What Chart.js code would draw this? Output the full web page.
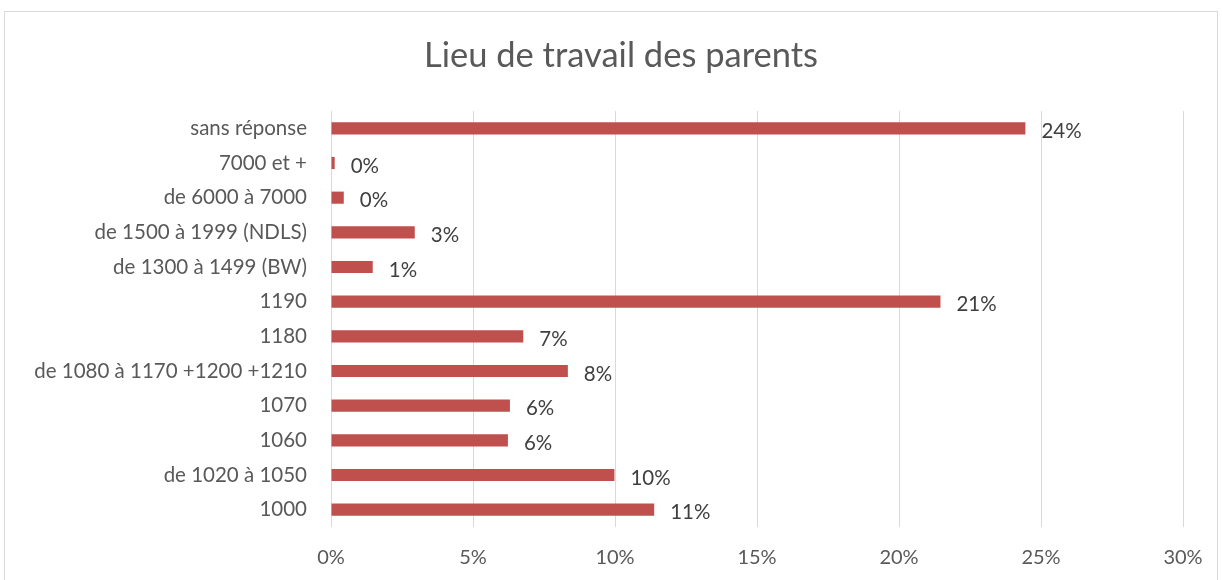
<!DOCTYPE html>
<html>
<head>
<meta charset="utf-8">
<script src="https://cdn.jsdelivr.net/npm/chart.js@4"></script>
<style>
  html, body { margin: 0; padding: 0; background: #fff; }
  canvas { display: block; }
</style>
</head>
<body>
<canvas id="c" width="1222" height="580"></canvas>
<script>
const categories = [
  "sans réponse",
  "7000 et +",
  "de 6000 à 7000",
  "de 1500 à 1999 (NDLS)",
  "de 1300 à 1499 (BW)",
  "1190",
  "1180",
  "de 1080 à 1170 +1200 +1210",
  "1070",
  "1060",
  "de 1020 à 1050",
  "1000"
];
const values = [24.45, 0.13, 0.45, 2.95, 1.47, 21.46, 6.77, 8.34, 6.30, 6.23, 9.98, 11.38];
const valueLabels = ["24%", "0%", "0%", "3%", "1%", "21%", "7%", "8%", "6%", "6%", "10%", "11%"];
const xTicks = [0, 5, 10, 15, 20, 25, 30];
const titleText = "Lieu de travail des parents";

const FONT = "Lato, 'Open Sans', sans-serif";

const decor = {
  id: 'decor',
  beforeDraw(chart) {
    const ctx = chart.ctx;
    ctx.save();
    ctx.fillStyle = '#ffffff';
    ctx.fillRect(0, 0, chart.width, chart.height);
    ctx.strokeStyle = '#d9d9d9';
    ctx.lineWidth = 1;
    ctx.strokeRect(4.5, 11.5, 1213, 600);
    ctx.restore();
  },
  afterDraw(chart) {
    const ctx = chart.ctx;
    ctx.save();
    ctx.fillStyle = '#595959';
    ctx.font = "34.5px " + FONT;
    ctx.textAlign = 'center';
    ctx.textBaseline = 'middle';
    ctx.fillText(titleText, 621, 56);
    const meta = chart.getDatasetMeta(0);
    ctx.fillStyle = '#404040';
    ctx.font = "20.5px " + FONT;
    ctx.textAlign = 'left';
    meta.data.forEach((bar, i) => {
      ctx.fillText(valueLabels[i], bar.x + 16, bar.y + 3);
    });
    ctx.restore();
  }
};

new Chart(document.getElementById('c'), {
  type: 'bar',
  data: {
    labels: categories,
    datasets: [{
      data: values,
      backgroundColor: '#c0504d',
      borderWidth: 0,
      categoryPercentage: 1.0,
      barPercentage: 0.35
    }]
  },
  options: {
    indexAxis: 'y',
    responsive: false,
    animation: false,
    layout: { padding: { left: 0, right: 39, top: 111, bottom: 0 } },
    plugins: {
      legend: { display: false },
      title: { display: false },
      tooltip: { enabled: false }
    },
    scales: {
      x: {
        min: 0,
        max: 30,
        afterBuildTicks(scale) { scale.ticks = xTicks.map(v => ({ value: v })); },
        afterFit(scale) { scale.height = 53; },
        grid: { color: '#d9d9d9', lineWidth: 1, drawTicks: false },
        border: { display: false },
        ticks: {
          padding: 19,
          color: '#595959',
          font: { family: FONT, size: 20 },
          callback: v => v + '%',
          maxRotation: 0
        }
      },
      y: {
        afterFit(scale) { scale.width = 331; },
        grid: { display: false, drawTicks: false },
        border: { display: false },
        ticks: {
          padding: 24,
          color: '#595959',
          font: { family: FONT, size: 20.5 },
          autoSkip: false
        }
      }
    }
  },
  plugins: [decor]
});
</script>
</body>
</html>
